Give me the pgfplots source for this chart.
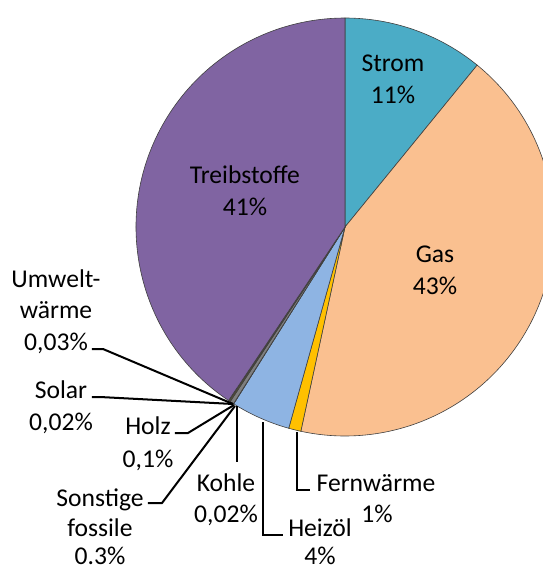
\documentclass[border=0pt]{standalone}
\usepackage{fontspec}
\setmainfont{Carlito}
\usepackage{pgfplots}
\usepackage{pgfplotstable}
\pgfplotsset{compat=1.18}

\definecolor{cStrom}{HTML}{4BACC6}
\definecolor{cGas}{HTML}{FAC090}
\definecolor{cFern}{HTML}{FFC000}
\definecolor{cHeiz}{HTML}{8EB4E3}
\definecolor{cKohle}{HTML}{404040}
\definecolor{cSonst}{HTML}{7F7F7F}
\definecolor{cHolz}{HTML}{6B5A2E}
\definecolor{cSolar}{HTML}{C0A000}
\definecolor{cUmwelt}{HTML}{4F6228}
\definecolor{cTreib}{HTML}{8064A2}

% shares in percent, clockwise from 12 o'clock
\pgfplotstableread{
name value color
Strom 10.9 cStrom
Gas 42.5 cGas
Fernwaerme 0.95 cFern
Heizoel 4.6 cHeiz
Kohle 0.02 cKohle
Sonstige 0.3 cSonst
Holz 0.1 cHolz
Solar 0.02 cSolar
Umwelt 0.03 cUmwelt
Treibstoffe 40.6 cTreib
}\piedata

\newcommand{\lab}{\fontsize{12.8}{15}\selectfont}
\tikzset{lbl/.style={font=\lab, anchor=base, inner sep=0pt, outer sep=0pt}}

% turn the shares into start/end angles (before the axis)
\gdef\tot{0}
\pgfplotsforeachungrouped \i in {0,...,9}{%
  \pgfplotstablegetelem{\i}{value}\of\piedata
  \pgfmathsetmacro\tmp{\tot+\pgfplotsretval}\xdef\tot{\tmp}}
\pgfmathsetmacro\degper{360/\tot}
\gdef\acc{0}
\gdef\slices{}
\pgfplotsforeachungrouped \i in {0,...,9}{%
  \pgfplotstablegetelem{\i}{value}\of\piedata \let\val\pgfplotsretval
  \pgfplotstablegetelem{\i}{color}\of\piedata \let\curcol\pgfplotsretval
  \pgfmathsetmacro\sa{90-\acc*\degper}
  \pgfmathsetmacro\ea{90-(\acc+\val)*\degper}
  \ifnum\i=0 \xdef\slices{\sa/\ea/\curcol}\else\xdef\slices{\slices,\sa/\ea/\curcol}\fi
  \pgfmathsetmacro\tmp{\acc+\val}\xdef\acc{\tmp}}

\begin{document}
\begin{tikzpicture}
\path[use as bounding box] (0,0) rectangle (271.5pt,285pt);
\begin{axis}[
    at={(0,0)}, anchor=south west,
    hide axis, scale only axis,
    x=0.5pt, y=0.5pt,
    xmin=0, xmax=543, ymin=0, ymax=570,
    clip=true,
  ]
  \pgfplotsextra{
    \foreach \s/\e/\cc in \slices {
      \filldraw[fill=\cc, draw=black!75, line width=0.3pt]
        (axis cs:345,343) -- ++(\s:104.5pt)
        arc[start angle=\s, end angle=\e, radius=104.5pt] -- cycle;
    }
  }

  % leader lines
  \draw[line width=1pt] (axis cs:92,221) -- (axis cs:103,221) -- (axis cs:233,166);
  \draw[line width=1pt] (axis cs:92,173) -- (axis cs:100,173) -- (axis cs:233,166);
  \draw[line width=1pt] (axis cs:175,137) -- (axis cs:188,137) -- (axis cs:234,165);
  \draw[line width=1pt] (axis cs:148,67) -- (axis cs:162,67) -- (axis cs:235,164);
  \draw[line width=1pt] (axis cs:237,164) -- (axis cs:237,108);
  \draw[line width=1pt] (axis cs:263,148) -- (axis cs:263,35) -- (axis cs:283,35);
  \draw[line width=1pt] (axis cs:297,138) -- (axis cs:297,80) -- (axis cs:310,80);

  % labels (baselines)
  \node[lbl] at (axis cs:393,499) {Strom};
  \node[lbl] at (axis cs:393,467) {11\%};
  \node[lbl] at (axis cs:435,308) {Gas};
  \node[lbl] at (axis cs:435,276) {43\%};
  \node[lbl] at (axis cs:245,387) {Treibstoffe};
  \node[lbl] at (axis cs:245,355) {41\%};
  \node[lbl] at (axis cs:56,283) {Umwelt-};
  \node[lbl] at (axis cs:56,251.5) {wärme};
  \node[lbl] at (axis cs:56,220) {0,03\%};
  \node[lbl] at (axis cs:61,172) {Solar};
  \node[lbl] at (axis cs:61,140) {0,02\%};
  \node[lbl] at (axis cs:148,135) {Holz};
  \node[lbl] at (axis cs:148,103) {0,1\%};
  \node[lbl] at (axis cs:100,63) {Sonstige};
  \node[lbl] at (axis cs:100,33) {fossile};
  \node[lbl] at (axis cs:100,5) {0.3\%};
  \node[lbl] at (axis cs:226,78) {Kohle};
  \node[lbl] at (axis cs:226,47) {0,02\%};
  \node[lbl] at (axis cs:320,33) {Heizöl};
  \node[lbl] at (axis cs:320,5) {4\%};
  \node[lbl] at (axis cs:376,78) {Fernwärme};
  \node[lbl] at (axis cs:377,47) {1\%};
\end{axis}
\end{tikzpicture}
\end{document}
